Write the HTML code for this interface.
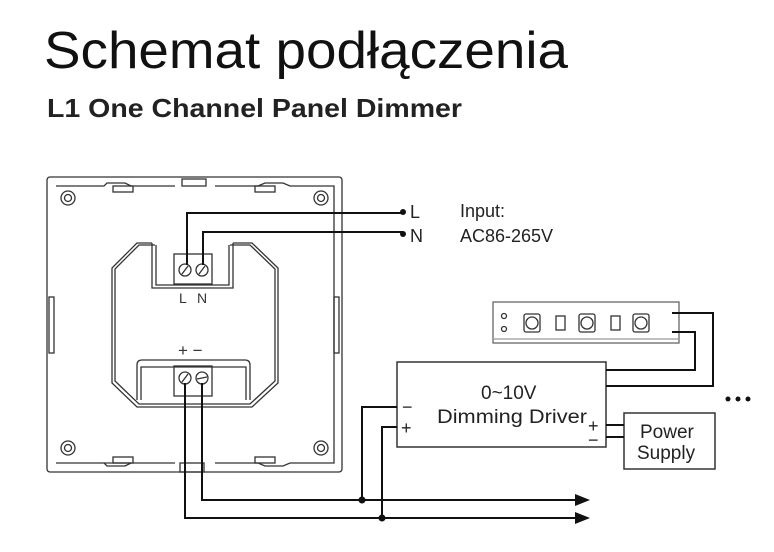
<!DOCTYPE html>
<html><head><meta charset="utf-8"><style>
html,body{margin:0;padding:0;background:#fff;}
svg{display:block;}
</style></head><body>
<svg width="774" height="552" viewBox="0 0 774 552" xmlns="http://www.w3.org/2000/svg" font-family="Liberation Sans, sans-serif">
<text x="44" y="68" font-size="52" fill="#111" textLength="524" lengthAdjust="spacingAndGlyphs">Schemat podłączenia</text>
<text x="47" y="117" font-size="26" font-weight="bold" fill="#222" textLength="415" lengthAdjust="spacingAndGlyphs">L1 One Channel Panel Dimmer</text>

<g fill="none" stroke="#333" stroke-width="1.3">
<rect x="47" y="177" width="295" height="295" rx="3"/>
<path d="M56 186 H104 L107 183 H125 L131 186 H175 M215 186 H258 L265 183 H283 L290 186 H334 V463 H290 L283 466 H265 L258 463 H215 M175 463 H131 L125 466 H107 L104 463 H56 Z"/>
<rect x="113" y="186" width="20" height="6"/><rect x="255" y="186" width="20" height="6"/>
<rect x="113" y="457" width="20" height="6"/><rect x="255" y="457" width="20" height="6"/>
<rect x="182" y="179" width="24" height="7"/><rect x="180" y="463" width="24" height="9"/>
<rect x="49" y="297" width="5" height="56"/><rect x="334" y="297" width="5" height="56"/>
<circle cx="68" cy="198" r="7"/><circle cx="68" cy="198" r="3.5"/>
<circle cx="321" cy="198" r="7"/><circle cx="321" cy="198" r="3.5"/>
<circle cx="68" cy="448" r="7"/><circle cx="68" cy="448" r="3.5"/>
<circle cx="321" cy="448" r="7"/><circle cx="321" cy="448" r="3.5"/>
<path d="M152 243 H137 L112 268 V383 L137 407 H252 L278 383 V268 L252 243 H233"/>
<path d="M155 245 H139 L115 269 V381 L139 404 H250 L275 381 V269 L250 245 H230"/>
<path d="M152 243 V288 H233 V243"/><path d="M156 245 V285 H229 V245"/>
<rect x="174" y="254" width="38" height="30"/>
<circle cx="185" cy="270" r="6"/><circle cx="202" cy="270" r="6"/>
<line x1="182" y1="274" x2="188" y2="266"/><line x1="199" y1="274" x2="205" y2="266"/>
<path d="M137 400 V365 Q137 360 142 360 H245 Q250 360 250 365 V400"/>
<path d="M141 400 V367 H246 V400"/>
<rect x="174" y="366" width="38" height="30"/>
<circle cx="185" cy="378" r="6"/><circle cx="202" cy="378" r="6"/>
<line x1="182" y1="382" x2="188" y2="374"/><line x1="197" y1="379" x2="207" y2="377"/>
<rect x="397" y="362" width="209" height="85" stroke-width="1.5"/>
<rect x="493" y="302" width="186" height="41" stroke="#666"/>
<line x1="493" y1="339" x2="679" y2="339" stroke="#999"/>
<rect x="624" y="413" width="91" height="56" stroke-width="1.5"/>
<circle cx="504" cy="316" r="2.5"/><circle cx="504" cy="329" r="2.5"/>
<rect x="524" y="314" width="16" height="18" rx="2"/><circle cx="532" cy="323" r="6"/>
<rect x="579" y="314" width="16" height="18" rx="2"/><circle cx="587" cy="323" r="6"/>
<rect x="633" y="314" width="16" height="18" rx="2"/><circle cx="641" cy="323" r="6"/>
<rect x="556" y="316" width="9" height="14"/><rect x="611" y="316" width="9" height="14"/>
</g>

<g fill="none" stroke="#111" stroke-width="2">
<path d="M187 265 V213 H403"/>
<path d="M203 265 V232 H403"/>
<path d="M185 383 V518 H580"/>
<path d="M202 383 V500 H580"/>
<path d="M362 500 V407 H397"/>
<path d="M382 518 V427 H397"/>
<path d="M672 313 H713 V386 H606"/>
<path d="M672 332 H695 V370 H606"/>
<path d="M606 425 H624 M606 437 H624"/>
</g>
<g fill="#111">
<circle cx="403" cy="212" r="3"/><circle cx="403" cy="234" r="3"/>
<circle cx="362" cy="500" r="3.5"/><circle cx="382" cy="518" r="3.5"/>
<path d="M590 500 L575 494 V506 Z"/><path d="M590 518 L575 512 V524 Z"/>
<circle cx="728" cy="399" r="2.5"/><circle cx="738" cy="399" r="2.5"/><circle cx="748" cy="399" r="2.5"/>
</g>

<g font-size="18" fill="#222">
<text x="410" y="218">L</text>
<text x="410" y="242">N</text>
<text x="460" y="217">Input:</text>
<text x="460" y="242">AC86-265V</text>
<text x="481" y="399" font-size="19">0~10V</text>
<text x="437" y="423" font-size="19" textLength="150" lengthAdjust="spacingAndGlyphs">Dimming Driver</text>
<text x="402" y="413" font-size="18">−</text>
<text x="401" y="434" font-size="18">+</text>
<text x="588" y="432" font-size="18">+</text>
<text x="588" y="446" font-size="18">−</text>
<text x="640" y="438" font-size="19">Power</text>
<text x="637" y="459" font-size="19">Supply</text>
</g>
<g font-size="14" fill="#333">
<text x="179" y="303">L</text><text x="197" y="303">N</text>
<text x="178" y="356" font-size="17">+ −</text>
</g>
</svg>
</body></html>
